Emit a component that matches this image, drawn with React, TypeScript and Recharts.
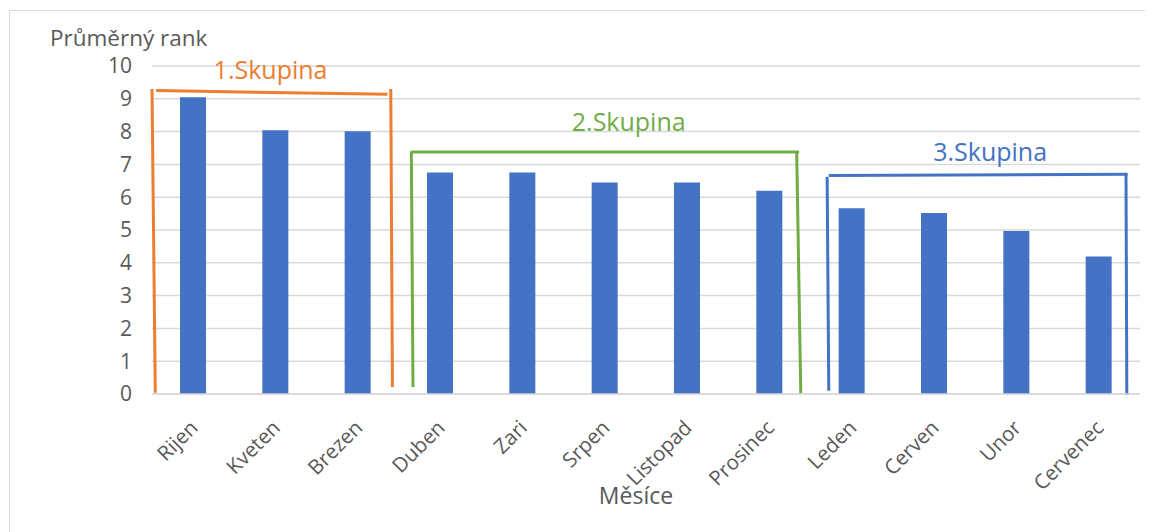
import React from "react";
import {
  BarChart,
  Bar,
  XAxis,
  YAxis,
  CartesianGrid,
  ReferenceLine,
  ReferenceDot,
} from "recharts";

const months = [
  "Rijen", "Kveten", "Brezen", "Duben", "Zari", "Srpen",
  "Listopad", "Prosinec", "Leden", "Cerven", "Unor", "Cervenec",
];
const avgRank = [9.05, 8.04, 8.01, 6.75, 6.75, 6.45, 6.45, 6.2, 5.66, 5.52, 4.97, 4.19];
const yTicks = [0, 1, 2, 3, 4, 5, 6, 7, 8, 9, 10];

const groupNames = ["1.Skupina", "2.Skupina", "3.Skupina"];
const groupColors = ["#ED7D31", "#70AD47", "#4472C4"];
// bracket outlines in data units (x: category slot 0..12, y: rank)
const groupBrackets = [
  [
    [{ x: 0.0, y: 9.3 }, { x: 0.04, y: 0.04 }],
    [{ x: 0.05, y: 9.25 }, { x: 2.86, y: 9.14 }],
    [{ x: 2.9, y: 9.3 }, { x: 2.92, y: 0.21 }],
  ],
  [
    [{ x: 3.15, y: 7.4 }, { x: 3.17, y: 0.21 }],
    [{ x: 3.15, y: 7.38 }, { x: 7.86, y: 7.38 }],
    [{ x: 7.83, y: 7.4 }, { x: 7.88, y: 0.02 }],
  ],
  [
    [{ x: 8.2, y: 6.62 }, { x: 8.22, y: 0.1 }],
    [{ x: 8.22, y: 6.66 }, { x: 11.85, y: 6.7 }],
    [{ x: 11.83, y: 6.7 }, { x: 11.84, y: -0.03 }],
  ],
];
const groupLabelPos = [
  { x: 1.44, y: 9.88 },
  { x: 5.79, y: 8.29 },
  { x: 10.18, y: 7.36 },
];

const data = months.map((m, i) => ({ month: m, rank: avgRank[i], slot: i + 0.5 }));

const FONT = "'Open Sans', 'Noto Sans', sans-serif";
const TEXT = "#595959";

const XTick = (props: any) => {
  const { x, y, payload } = props;
  const ax = x + 6;
  const ay = y + 27;
  return (
    <text
      x={ax}
      y={ay}
      transform={`rotate(-45, ${ax}, ${ay})`}
      textAnchor="end"
      fill={TEXT}
      fontSize={20.5}
      fontFamily={FONT}
    >
      {payload.value}
    </text>
  );
};

export default function App() {
  return (
    <div style={{ position: "relative", width: 1145, height: 524, fontFamily: FONT }}>
      <div
        style={{
          position: "absolute",
          left: 1,
          top: 2,
          width: 1144,
          height: 540,
          borderTop: "1px solid #d9d9d9",
          borderLeft: "1px solid #d9d9d9",
          boxSizing: "border-box",
        }}
      />
      <BarChart
        width={1145}
        height={524}
        data={data}
        margin={{ top: 58, right: 13, left: 100, bottom: 0 }}
        barCategoryGap="34%"
        style={{ position: "absolute", left: 0, top: 0 }}
      >
        <CartesianGrid vertical={false} stroke="#d9d9d9" strokeWidth={1.5} />
        <XAxis
          dataKey="month"
          interval={0}
          tickLine={false}
          axisLine={{ stroke: "#d9d9d9", strokeWidth: 1.5 }}
          height={138}
          tick={<XTick />}
        />
        <XAxis
          xAxisId="n"
          dataKey="slot"
          type="number"
          domain={[0, 12]}
          allowDataOverflow
          hide
        />
        <YAxis
          width={44}
          domain={[0, 10]}
          ticks={yTicks}
          interval={0}
          axisLine={false}
          tickLine={false}
          tickMargin={14}
          tick={{ fill: TEXT, fontSize: 21, fontFamily: FONT }}
        />
        <Bar dataKey="rank" fill="#4472C4" barSize={26} isAnimationActive={false} />
        {groupBrackets.map((segs, g) =>
          segs.map((seg, k) => (
            <ReferenceLine
              key={`b${g}-${k}`}
              xAxisId="n"
              segment={seg}
              stroke={groupColors[g]}
              strokeWidth={3}
              ifOverflow="visible"
            />
          ))
        )}
        {groupNames.map((name, g) => (
          <ReferenceDot
            key={`l${g}`}
            xAxisId="n"
            x={groupLabelPos[g].x}
            y={groupLabelPos[g].y}
            r={0}
            fill="none"
            stroke="none"
            ifOverflow="visible"
            label={{
              value: name,
              position: "center",
              fill: groupColors[g],
              fontSize: 25,
              fontFamily: FONT,
            }}
          />
        ))}
      </BarChart>
      <div
        style={{
          position: "absolute",
          left: 42,
          top: 15,
          fontSize: 22.5,
          color: TEXT,
          whiteSpace: "nowrap",
          lineHeight: "30px",
        }}
      >
        Průměrný rank
      </div>
      <div
        style={{
          position: "absolute",
          left: 628,
          top: 472,
          transform: "translateX(-50%)",
          fontSize: 23,
          color: TEXT,
          whiteSpace: "nowrap",
          lineHeight: "30px",
        }}
      >
        Měsíce
      </div>
    </div>
  );
}
